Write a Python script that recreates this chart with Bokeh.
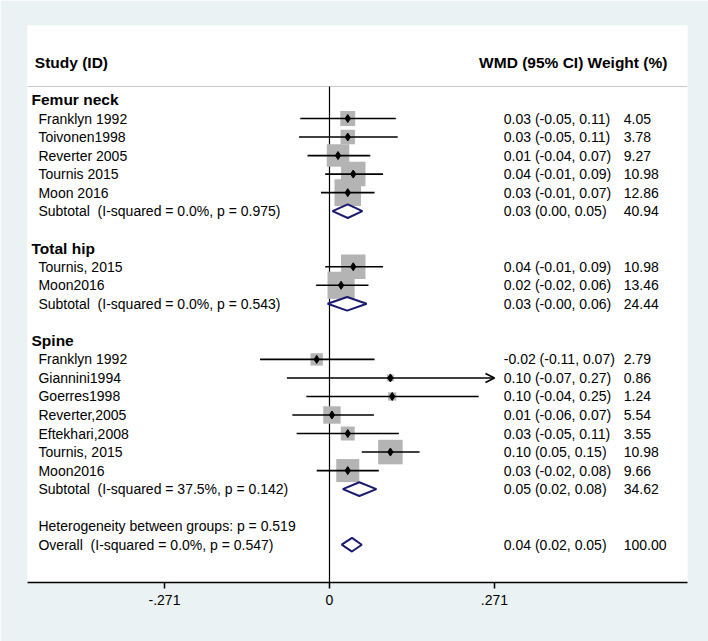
import numpy as np
from bokeh.plotting import figure
from bokeh.models import ColumnDataSource, Range1d, FixedTicker, Arrow, OpenHead
from bokeh.core.properties import value
from bokeh.embed import file_html
from bokeh.resources import INLINE

# ---------------- data ----------------
group_names = ["Femur neck", "Total hip", "Spine"]
group_rows = [0, 8, 13]

study_labels = ["Franklyn 1992", "Toivonen1998", "Reverter 2005", "Tournis 2015", "Moon 2016",
                "Tournis, 2015", "Moon2016",
                "Franklyn 1992", "Giannini1994", "Goerres1998", "Reverter,2005",
                "Eftekhari,2008", "Tournis, 2015", "Moon2016"]
study_rows = [1, 2, 3, 4, 5, 9, 10, 14, 15, 16, 17, 18, 19, 20]
study_est = [0.030, 0.030, 0.014, 0.039, 0.030, 0.039, 0.019,
             -0.021, 0.100, 0.103, 0.004, 0.030, 0.100, 0.030]
study_lo = [-0.048, -0.050, -0.036, -0.007, -0.014, -0.007, -0.022,
            -0.114, -0.070, -0.038, -0.061, -0.054, 0.053, -0.021]
study_hi = [0.109, 0.112, 0.067, 0.088, 0.074, 0.088, 0.064,
            0.074, 0.272, 0.245, 0.073, 0.114, 0.148, 0.081]
study_weight = [4.05, 3.78, 9.27, 10.98, 12.86, 10.98, 13.46,
                2.79, 0.86, 1.24, 5.54, 3.55, 10.98, 9.66]
study_ci_text = ["0.03 (-0.05, 0.11)", "0.03 (-0.05, 0.11)", "0.01 (-0.04, 0.07)",
                 "0.04 (-0.01, 0.09)", "0.03 (-0.01, 0.07)",
                 "0.04 (-0.01, 0.09)", "0.02 (-0.02, 0.06)",
                 "-0.02 (-0.11, 0.07)", "0.10 (-0.07, 0.27)", "0.10 (-0.04, 0.25)",
                 "0.01 (-0.06, 0.07)", "0.03 (-0.05, 0.11)", "0.10 (0.05, 0.15)",
                 "0.03 (-0.02, 0.08)"]

pooled_labels = ["Subtotal\u00a0 (I-squared = 0.0%, p = 0.975)",
                 "Subtotal\u00a0 (I-squared = 0.0%, p = 0.543)",
                 "Subtotal\u00a0 (I-squared = 37.5%, p = 0.142)",
                 "Overall\u00a0 (I-squared = 0.0%, p = 0.547)"]
pooled_rows = [6, 11, 21, 24]
pooled_est = [0.030, 0.029, 0.049, 0.037]
pooled_lo = [0.005, -0.003, 0.022, 0.020]
pooled_hi = [0.054, 0.061, 0.077, 0.053]
pooled_weight = [40.94, 24.44, 34.62, 100.00]
pooled_ci_text = ["0.03 (0.00, 0.05)", "0.03 (-0.00, 0.06)",
                  "0.05 (0.02, 0.08)", "0.04 (0.02, 0.05)"]

het_text = ["Heterogeneity between groups: p = 0.519"]
het_rows = [23]

header_left = "Study (ID)"
header_right = "WMD (95% CI) Weight (%)"

x_ticks = [-0.271, 0, 0.271]
x_tick_labels = ["-.271", "0", ".271"]

# ---------------- layout constants ----------------
FONT = "Liberation Sans"
BG = "#EAF2F3"
NAVY = "#1A1A6E"
BOX = "#B4B4B4"
X0, X1 = -0.496, 0.588
Y_TOP, Y_BOT = -4.02, 26.04
X_LABEL = -0.478
X_GROUP = -0.4894
X_HEAD = -0.484
X_CI = 0.2863
X_W = 0.4833
X_HEAD_R = 0.555
Y_HEAD = -2.0
Y_RULE = -0.727
AX_MAX = max(x_ticks)

p = figure(frame_width=660, frame_height=557,
           x_range=Range1d(X0, X1), y_range=Range1d(Y_BOT, Y_TOP),
           output_backend="svg", toolbar_location=None,
           min_border_left=27, min_border_right=21,
           min_border_top=25, min_border_bottom=59)
p.background_fill_color = "white"
p.border_fill_color = BG
p.outline_line_color = None
p.grid.visible = False
p.yaxis.visible = False

xa = p.xaxis[0]
xa.ticker = FixedTicker(ticks=x_ticks)
xa.major_label_overrides = {t: l for t, l in zip(x_ticks, x_tick_labels)}
xa.minor_tick_line_color = None
xa.major_tick_in = 0
xa.major_tick_out = 6
xa.major_tick_line_width = 1.5
xa.axis_line_width = 1.5
xa.axis_line_color = "black"
xa.major_tick_line_color = "black"
xa.major_label_text_font = FONT
xa.major_label_text_font_size = "14px"
xa.major_label_text_color = "black"
xa.major_label_standoff = 6

# header rule and zero line
p.segment(x0=[X0], x1=[X1], y0=[Y_RULE], y1=[Y_RULE], line_color="#C8C8C8", line_width=1)
p.segment(x0=[0], x1=[0], y0=[Y_RULE], y1=[Y_BOT], line_color="black", line_width=1.2)

# study boxes, CIs and points
est = np.array(study_est)
lo = np.array(study_lo)
hi = np.array(study_hi)
w = np.array(study_weight)
rows = np.array(study_rows, dtype=float)
clipped = hi > AX_MAX

src = ColumnDataSource(dict(y=rows, est=est, size=7.4 * np.sqrt(w)))
p.scatter("est", "y", size="size", marker="square", source=src,
          fill_color=BOX, line_color=None)

seg = ColumnDataSource(dict(y=rows[~clipped], lo=lo[~clipped], hi=hi[~clipped]))
p.segment(x0="lo", x1="hi", y0="y", y1="y", source=seg, line_color="black", line_width=1.6)

arr = ColumnDataSource(dict(y=rows[clipped], lo=lo[clipped], hi=np.minimum(hi[clipped], AX_MAX)))
p.add_layout(Arrow(end=OpenHead(size=9, line_width=1.6, line_color="black"),
                   x_start="lo", y_start="y", x_end="hi", y_end="y", source=arr,
                   line_color="black", line_width=1.6))

p.scatter("est", "y", size=8, marker="diamond", source=src,
          fill_color="black", line_color="black")

# pooled diamonds
H = 0.37
xs = [[l, e, h, e] for l, e, h in zip(pooled_lo, pooled_est, pooled_hi)]
ys = [[r, r - H, r, r + H] for r in pooled_rows]
p.patches(xs, ys, fill_color="white", line_color=NAVY, line_width=2)

# texts
def txt(x, y, t, bold=False, align="left", size="14px"):
    p.text(x=x, y=y, text=t, text_font=value(FONT), text_font_size=size,
           text_font_style="bold" if bold else "normal", text_align=align,
           text_baseline="middle", text_color="black")

txt([X_HEAD], [Y_HEAD], [header_left], bold=True, size="15.5px")
txt([X_HEAD_R], [Y_HEAD], [header_right], bold=True, align="right", size="15.5px")
txt([X_GROUP] * len(group_names), group_rows, group_names, bold=True, size="15.5px")
txt([X_LABEL] * len(study_labels), study_rows, study_labels)
txt([X_LABEL] * len(pooled_labels), pooled_rows, pooled_labels)
txt([X_LABEL], het_rows, het_text)
txt([X_CI] * len(study_ci_text), study_rows, study_ci_text)
txt([X_CI] * len(pooled_ci_text), pooled_rows, pooled_ci_text)
txt([X_W] * len(study_weight), study_rows, ["%.2f" % v for v in study_weight])
txt([X_W] * len(pooled_weight), pooled_rows, ["%.2f" % v for v in pooled_weight])

open("out.html", "w").write(file_html(p, INLINE))
